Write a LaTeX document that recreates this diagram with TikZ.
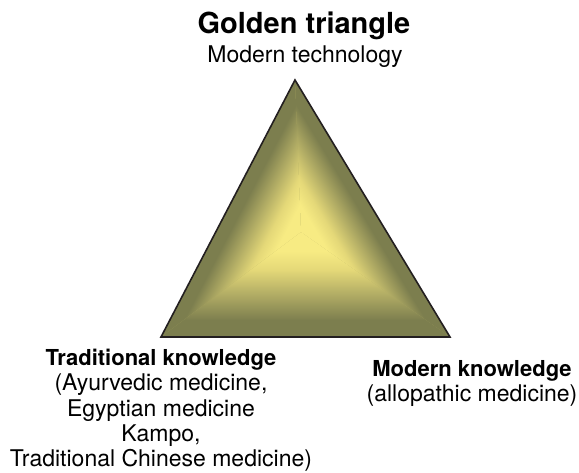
\documentclass[tikz,border=0pt]{standalone}
\usepackage{fontspec}
\setmainfont{TeX Gyre Heros}

\definecolor{olivedark}{RGB}{124,126,78}
\definecolor{olivemid}{RGB}{176,171,100}
\definecolor{goldlight}{RGB}{228,216,120}
\definecolor{goldcore}{RGB}{247,235,131}
\definecolor{rim}{RGB}{35,31,32}

% dark at the edge, light towards the middle (25bp = edge, 75bp = centre)
\pgfdeclareverticalshading{bevel}{100bp}{color(0bp)=(olivedark); color(25bp)=(olivedark);
  color(33bp)=(olivedark); color(45bp)=(olivemid); color(57bp)=(goldlight);
  color(66bp)=(goldcore); color(100bp)=(goldcore)}

% one face of the bevel: edge #1--#2, #3 = direction of that edge, #4 = depth
\newcommand{\bevelface}[4]{
\begin{scope}
\clip (#1) -- (#2) -- (mid) -- cycle;
\begin{scope}[transform canvas={shift={(#1)},rotate=#3}]
\shade[shading=bevel] (-40,0) rectangle (360,#4);
\end{scope}
\end{scope}}

\begin{document}
\begin{tikzpicture}[x=1pt,y=1pt,
  corner text/.style={align=center, inner sep=0pt, font=\fontsize{23}{25.3}\selectfont}]
\useasboundingbox (0,0) rectangle (579,473);

\coordinate (left) at (161,136);
\coordinate (right) at (450,136);
\coordinate (top) at (295,393);
\coordinate (mid) at (301,241);

\fill[olivemid] (left) -- (right) -- (top) -- cycle;
\bevelface{left}{right}{0}{105}
\bevelface{right}{top}{121.1}{73.4}
\bevelface{top}{left}{242.5}{75.6}
\draw[line width=1.6pt, rim] (left) -- (right) -- (top) -- cycle;

\node[inner sep=0pt, anchor=base, font=\fontsize{29}{32}\selectfont\bfseries] (title) at (304,439) {Golden triangle};
\node[inner sep=0pt, anchor=base, font=\fontsize{23}{26}\selectfont] (tech) at (305,410) {Modern technology};

\node[corner text, anchor=north] (trad) at (161,124)
  {{\fontsize{22}{25.3}\selectfont\bfseries Traditional knowledge}\\(Ayurvedic medicine,\\Egyptian medicine\\Kampo,\\Traditional Chinese medicine)};
\node[corner text, anchor=north] (modern) at (472,113)
  {{\fontsize{22}{25.3}\selectfont\bfseries Modern knowledge}\\(allopathic medicine)};
\end{tikzpicture}
\end{document}
